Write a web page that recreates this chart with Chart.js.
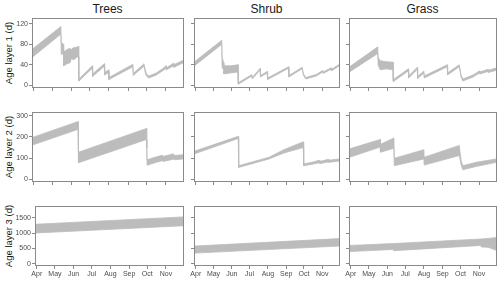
<!DOCTYPE html>
<html><head><meta charset="utf-8">
<script src="https://cdn.jsdelivr.net/npm/chart.js@4.4.1/dist/chart.umd.min.js"></script>
<style>
body{margin:0;background:#fff;width:500px;height:281px;position:relative;overflow:hidden;font-family:"Liberation Sans",Arial,sans-serif}
canvas{position:absolute}
.strip{position:absolute;top:1px;height:16px;line-height:16px;font-size:12px;color:#1a1a1a;text-align:center}
.ytl{position:absolute;width:100px;height:12px;line-height:12px;font-size:9.5px;color:#1a1a1a;text-align:center;white-space:nowrap;transform:rotate(-90deg)}
</style></head><body>
<script>
// x axis: day of year, ticks on the first of each month
const monthDays=[91,121,152,182,213,244,274,305];
const monthLabels=["Apr","May","Jun","Jul","Aug","Sep","Oct","Nov"];
const groups=["Trees","Shrub","Grass"];
const layerTitles=["Age layer 1 (d)","Age layer 2 (d)","Age layer 3 (d)"];
const layerTicks=[[0,40,80,120],[0,100,200,300],[0,500,1000,1500]];

// Trees, layer 1
const treesL1Day=[89,135,135.5,139,139.5,145,150,152,156,160,163.5,164,186,186.5,205.5,206,212.5,213,252,252.5,270,272,274,278,290,300,306,306.5,318,318.5,334];
const treesL1Lo=[55,100,60,62,38,42,44,52,50,54,56,8,33,17,37,20,25,11,36,19,37,25,18,14,20,28,33,30,38,35,44];
const treesL1Hi=[71,115,85,80,65,70,72,70,74,74,76,12,38,22,42,25,30,15,41,23,42,30,22,18,24,32,38,34,43,40,49];
// Shrub, layer 1
const shrubL1Day=[89,135,135.5,138,138.5,150,162.5,163,186,186.5,200,200.5,212,212.5,248,248.5,271,273,277,295,306,306.5,320,320.5,334];
const shrubL1Lo=[38,80,35,30,22,24,26,2,18,12,30,16,24,11,33,16,32,20,12,18,26,23,31,28,38];
const shrubL1Hi=[46,88,55,45,38,38,40,5,21,15,33,19,27,14,36,19,35,23,15,21,29,26,34,31,41];
// Grass, layer 1
const grassL1Day=[89,136,136.5,140,150,161.5,162,187,187.5,202,202.5,213,213.5,252,252.5,272,275,278,295,306,306.5,320,320.5,334];
const grassL1Lo=[26,62,40,30,32,30,7,28,14,31,13,24,14,36,20,36,16,8,16,24,22,27,25,29];
const grassL1Hi=[36,75,55,48,46,45,11,32,18,35,17,28,18,40,24,40,20,12,20,28,26,31,29,34];

// Trees, layer 2
const treesL2Day=[89,163,163.5,274,274.5,275,290,300,301,318,319,334];
const treesL2Lo=[162,236,78,188,150,66,80,88,84,95,92,96];
const treesL2Hi=[198,273,128,240,150,92,106,114,108,120,112,116];
// Shrub, layer 2
const shrubL2Day=[89,163,163.5,215,240,273,273.5,290,300,301,315,316,334];
const shrubL2Lo=[120,193,56,96,124,150,64,72,78,74,82,80,86];
const shrubL2Hi=[133,203,64,104,140,177,72,82,90,84,94,90,96];
// Grass, layer 2
const grassL2Day=[89,140,140.5,163,163.5,213,213.5,272,275,278,300,334];
const grassL2Lo=[104,152,128,146,64,96,67,112,70,45,60,80];
const grassL2Hi=[144,188,165,195,99,140,104,160,90,64,80,96];

// Trees, layer 3
const treesL3Day=[89,334];
const treesL3Lo=[1005,1240];
const treesL3Hi=[1290,1530];
// Shrub, layer 3
const shrubL3Day=[89,334];
const shrubL3Lo=[350,580];
const shrubL3Hi=[580,822];
// Grass, layer 3
const grassL3Day=[89,162.5,163,308.5,309,320,334];
const grassL3Lo=[400,470,430,600,550,540,440];
const grassL3Hi=[600,662,663,810,811,830,855];

const panels=[
  [[treesL1Day,treesL1Lo,treesL1Hi],[shrubL1Day,shrubL1Lo,shrubL1Hi],[grassL1Day,grassL1Lo,grassL1Hi]],
  [[treesL2Day,treesL2Lo,treesL2Hi],[shrubL2Day,shrubL2Lo,shrubL2Hi],[grassL2Day,grassL2Lo,grassL2Hi]],
  [[treesL3Day,treesL3Lo,treesL3Hi],[shrubL3Day,shrubL3Lo,shrubL3Hi],[grassL3Day,grassL3Lo,grassL3Hi]]
];

// layout of the panels on the page
const colBox=[[32,183],[194,339],[349,496]];
const rowBox=[[18,87],[112,181],[206,265]];
const yRange=[[-5.5,131.5],[-13,318],[-70,1885]];
const BAND="#bcbcbc",LINE="#8a8a8a",TXT="#4d4d4d";

const border={id:"border",afterDraw(ch){const a=ch.chartArea,c=ch.ctx;c.save();c.strokeStyle=LINE;c.lineWidth=1;
  c.strokeRect(a.left+0.5,a.top+0.5,a.right-a.left-1,a.bottom-a.top-1);c.restore()}};

groups.forEach((g,c)=>{
  const d=document.createElement("div");d.className="strip";d.textContent=g;
  d.style.left=colBox[c][0]+"px";d.style.width=(colBox[c][1]-colBox[c][0])+"px";document.body.appendChild(d);
});
layerTitles.forEach((t,r)=>{
  const d=document.createElement("div");d.className="ytl";d.textContent=t;
  const cy=(rowBox[r][0]+rowBox[r][1])/2;
  d.style.left=(9-50)+"px";d.style.top=(cy-6)+"px";document.body.appendChild(d);
});

for(let r=0;r<3;r++)for(let c=0;c<3;c++){
  const [day,lo,hi]=panels[r][c];
  const left=(r===2&&c===0)?35:colBox[c][0];
  const yw=c===0?left:12, xh=r===2?14:4;
  const cv=document.createElement("canvas");
  const w=yw+(colBox[c][1]-left)+1+1, h=1+(rowBox[r][1]-rowBox[r][0])+1+xh;
  cv.width=w;cv.height=h;cv.style.left=(left-yw)+"px";cv.style.top=(rowBox[r][0]-1)+"px";
  document.body.appendChild(cv);
  const pts=a=>day.map((x,i)=>({x,y:a[i]}));
  new Chart(cv,{type:"line",
    data:{datasets:[
      {data:pts(hi),fill:"+1",backgroundColor:BAND,borderColor:BAND,borderWidth:0.8,pointRadius:0,tension:0},
      {data:pts(lo),fill:false,borderColor:BAND,borderWidth:0.8,pointRadius:0,tension:0}
    ]},
    plugins:[border],
    options:{responsive:false,animation:false,events:[],
      layout:{padding:{top:1,right:1,left:0,bottom:0}},
      plugins:{legend:{display:false},tooltip:{enabled:false}},
      scales:{
        x:{type:"linear",min:88,max:335,
          afterBuildTicks:s=>{s.ticks=monthDays.map(v=>({value:v}))},
          afterFit:s=>{s.height=xh;s.paddingLeft=0;s.paddingRight=0},
          grid:{drawOnChartArea:false,drawTicks:true,tickLength:3,color:LINE},border:{display:false},
          ticks:{display:r===2,padding:1,maxRotation:0,autoSkip:false,color:TXT,font:{size:7,family:"Liberation Sans"},
            callback:(v,i)=>monthLabels[i]}},
        y:{min:yRange[r][0],max:yRange[r][1],
          afterBuildTicks:s=>{s.ticks=layerTicks[r].map(v=>({value:v}))},
          afterFit:s=>{s.width=yw;s.paddingTop=0;s.paddingBottom=0},
          grid:{drawOnChartArea:false,drawTicks:true,tickLength:3,color:LINE},border:{display:false},
          ticks:{display:c===0,padding:1,color:TXT,font:{size:7,family:"Liberation Sans"},
            callback:v=>String(v)}}
      }}});
}
</script>
</body></html>
